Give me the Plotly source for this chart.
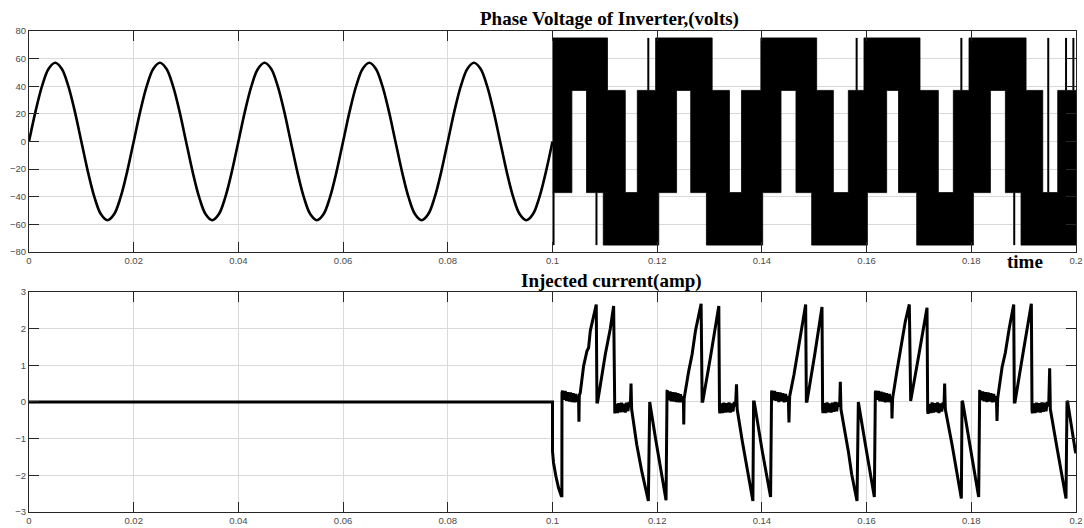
import plotly.graph_objects as go

# ---------------- data ----------------
# Phase voltage before the inverter starts (0 - 0.1 s), sampled every 1.25 ms
v_sine_t = [0.00125 * k for k in range(81)]
v_sine_v = [0, 21.8, 40.3, 52.7, 57, 52.7, 40.3, 21.8, 0, -21.8, -40.3, -52.7, -57, -52.7, -40.3, -21.8,
            0, 21.8, 40.3, 52.7, 57, 52.7, 40.3, 21.8, 0, -21.8, -40.3, -52.7, -57, -52.7, -40.3, -21.8,
            0, 21.8, 40.3, 52.7, 57, 52.7, 40.3, 21.8, 0, -21.8, -40.3, -52.7, -57, -52.7, -40.3, -21.8,
            0, 21.8, 40.3, 52.7, 57, 52.7, 40.3, 21.8, 0, -21.8, -40.3, -52.7, -57, -52.7, -40.3, -21.8,
            0, 21.8, 40.3, 52.7, 57, 52.7, 40.3, 21.8, 0, -21.8, -40.3, -52.7, -57, -52.7, -40.3, -21.8,
            0]

# PWM phase voltage (0.1 - 0.2 s): switching bands between voltage levels
pwm_edges = [0.1000, 0.1037, 0.1065, 0.1097, 0.1105, 0.1139, 0.1162, 0.1197,
             0.1203, 0.1237, 0.1264, 0.1294, 0.1305, 0.1338, 0.1361, 0.1398,
             0.14015, 0.14365, 0.14651, 0.14951, 0.15046, 0.15365, 0.15651, 0.1595,
             0.16015, 0.16383, 0.1661, 0.16957, 0.1702, 0.1737, 0.17657, 0.17956,
             0.1804, 0.18365, 0.18651, 0.1895, 0.19046, 0.19365, 0.19651, 0.2000]
pwm_low = [-37, 37, -37, -75, -75, -75, -75, -75,
           -37, 37, -37, -75, -75, -75, -75, -75,
           -37, 37, -37, -75, -75, -75, -75, -75,
           -37, 37, -37, -75, -75, -75, -75, -75,
           -37, 37, -37, -75, -75, -75, -75]
pwm_high = [75, 75, 75, 75, 37, -37, 37, 75,
            75, 75, 75, 75, 37, -37, 37, 75,
            75, 75, 75, 75, 37, -37, 37, 75,
            75, 75, 75, 75, 37, -37, 37, 75,
            75, 75, 75, 75, 37, -37, 37]

# isolated switching spikes
spike_t = [0.1002, 0.1084, 0.1183, 0.1581, 0.1781, 0.1882, 0.1947, 0.1981, 0.1995]
spike_lo = [-75, -75, 37, 37, 37, -75, -37, 37, 37]
spike_hi = [-37, -37, 75, 75, 75, -37, 75, 75, 75]

# Injected current (A)
cur_t = [
    0.0, 0.1,
    # cycle 1
    0.1, 0.10019, 0.10064, 0.10115, 0.10166, 0.10179, 0.10181,
    0.10191, 0.10217, 0.10243, 0.10268, 0.10294, 0.10319, 0.10345, 0.10370, 0.10396, 0.10421, 0.10447, 0.10472, 0.10498,
    0.10505, 0.10512, 0.1053, 0.10594, 0.10658, 0.1069, 0.10722, 0.10785, 0.10836,
    0.10849, 0.10862, 0.11009, 0.11104, 0.11168, 0.1118,
    0.1119, 0.11215, 0.1124, 0.11265, 0.1129, 0.11315, 0.1134, 0.11365, 0.1139, 0.11415, 0.1144, 0.11465, 0.11487,
    0.115, 0.11512, 0.11608, 0.11704, 0.11831, 0.11844,
    0.11857, 0.11965, 0.12093, 0.12169, 0.12188,
    # cycle 2
    0.12195, 0.1222, 0.12245, 0.1227, 0.12295, 0.1232, 0.12345, 0.1237, 0.12395, 0.1242, 0.12445, 0.1247, 0.125,
    0.12507, 0.12515, 0.12603, 0.12667, 0.12731, 0.12794, 0.12839,
    0.12858, 0.12871, 0.1302, 0.13177, 0.1319,
    0.13197, 0.13222, 0.13247, 0.13272, 0.13297, 0.13322, 0.13347, 0.13372, 0.13397, 0.13422, 0.13447, 0.13472, 0.13496,
    0.13515, 0.13528, 0.13624, 0.13751, 0.13828, 0.13841,
    0.13854, 0.14007, 0.14166, 0.14185,
    # cycle 3
    0.14192, 0.14218, 0.14244, 0.1427, 0.14296, 0.14322, 0.14348, 0.14374, 0.144, 0.14426, 0.14452, 0.14478, 0.14504,
    0.14517, 0.1453, 0.14613, 0.14677, 0.14741, 0.14836,
    0.14849, 0.14862, 0.1501, 0.15148, 0.1516,
    0.15167, 0.15193, 0.15219, 0.15245, 0.15271, 0.15297, 0.15323, 0.15349, 0.15375, 0.15401, 0.15427, 0.15453, 0.15485,
    0.15498, 0.1551, 0.15651, 0.15715, 0.15817, 0.15829,
    0.15842, 0.15976, 0.16148, 0.16167,
    # cycle 4
    0.16174, 0.162, 0.16226, 0.16252, 0.16278, 0.16304, 0.1633, 0.16356, 0.16382, 0.16408, 0.16434, 0.1646, 0.16478,
    0.16485, 0.16497, 0.1658, 0.16625, 0.16676, 0.1674, 0.16816,
    0.16829, 0.16842, 0.17, 0.17154, 0.17167,
    0.17174, 0.172, 0.17226, 0.17252, 0.17278, 0.17304, 0.1733, 0.17356, 0.17382, 0.17408, 0.17434, 0.1746, 0.17478,
    0.17491, 0.17504, 0.17631, 0.17727, 0.1781, 0.17823,
    0.17836, 0.17982, 0.18141, 0.1816,
    # cycle 5
    0.18167, 0.18193, 0.18219, 0.18245, 0.18271, 0.18297, 0.18323, 0.18349, 0.18375, 0.18401, 0.18427, 0.18453, 0.18479,
    0.18491, 0.18504, 0.18587, 0.18651, 0.18727, 0.1881,
    0.18822, 0.18835, 0.1899, 0.19147, 0.1916,
    0.19167, 0.19193, 0.19219, 0.19245, 0.19271, 0.19297, 0.19323, 0.19349, 0.19375, 0.19401, 0.19427, 0.19453, 0.19478,
    0.19497, 0.1951, 0.19637, 0.19733, 0.19809, 0.19828,
    0.19841, 0.19987, 0.2,
]
cur_i = [
    0.0, 0.0,
    # cycle 1
    -1.34, -1.65, -2.02, -2.34, -2.56, -2.56, 0.25,
    0.31, 0.06, 0.30, 0.03, 0.27, 0.01, 0.26, 0.00, 0.24, -0.01, 0.22, 0.00, 0.16,
    -0.54, 0.18, 0.25, 0.98, 1.39, 1.48, 1.94, 2.30, 2.66,
    0.0, 0.0, 1.30, 2.00, 2.62, -0.25,
    -0.31, -0.05, -0.30, -0.03, -0.28, -0.02, -0.27, -0.05, -0.29, -0.02, -0.25, 0.00, -0.12,
    0.50, -0.20, -1.15, -1.88, -2.70, 0.0,
    0.0, -0.97, -2.02, -2.68, 0.30,
    # cycle 2
    0.31, 0.05, 0.29, 0.02, 0.27, 0.01, 0.26, 0.00, 0.24, -0.01, 0.21, 0.00, 0.16,
    -0.61, 0.10, 0.85, 1.30, 1.94, 2.39, 2.68,
    0.02, 0.02, 1.25, 2.62, -0.22,
    -0.31, -0.04, -0.30, -0.02, -0.29, -0.03, -0.28, -0.01, -0.29, -0.04, -0.26, 0.00, -0.12,
    0.48, -0.20, -1.06, -2.15, -2.70, 0.0,
    0.0, -1.34, -2.59, 0.28,
    # cycle 3
    0.31, 0.05, 0.30, 0.03, 0.27, 0.00, 0.26, 0.02, 0.24, -0.01, 0.22, 0.01, 0.16,
    -0.56, 0.15, 0.75, 1.30, 1.94, 2.66,
    0.02, 0.02, 1.30, 2.59, -0.20,
    -0.30, -0.03, -0.30, -0.01, -0.28, -0.04, -0.29, -0.02, -0.27, 0.00, -0.25, -0.02, -0.12,
    0.55, -0.20, -1.34, -1.97, -2.70, 0.0,
    0.0, -1.15, -2.59, 0.25,
    # cycle 4
    0.31, 0.06, 0.30, 0.02, 0.28, 0.01, 0.26, -0.01, 0.24, 0.00, 0.22, -0.01, 0.16,
    -0.45, 0.10, 0.85, 1.25, 1.66, 2.20, 2.66,
    0.03, 0.03, 1.30, 2.57, -0.25,
    -0.32, -0.05, -0.30, -0.01, -0.29, -0.03, -0.27, -0.01, -0.30, -0.04, -0.26, -0.01, -0.12,
    0.50, -0.20, -1.15, -1.97, -2.63, 0.03,
    0.0, -1.25, -2.59, 0.30,
    # cycle 5
    0.31, 0.05, 0.29, 0.02, 0.27, 0.00, 0.26, 0.01, 0.24, -0.01, 0.22, 0.00, 0.16,
    -0.52, 0.10, 0.94, 1.35, 2.03, 2.66,
    0.0, 0.0, 1.35, 2.68, -0.23,
    -0.31, -0.04, -0.30, -0.02, -0.28, -0.03, -0.29, -0.01, -0.27, -0.02, -0.25, 0.00, -0.12,
    0.92, -0.20, -1.25, -2.02, -2.63, 0.03,
    0.0, -1.34, -1.40,
]

x_ticks = [0, 0.02, 0.04, 0.06, 0.08, 0.1, 0.12, 0.14, 0.16, 0.18, 0.2]
x_tick_text = ["0", "0.02", "0.04", "0.06", "0.08", "0.1", "0.12", "0.14", "0.16", "0.18", "0.2"]
v_ticks = [-80, -60, -40, -20, 0, 20, 40, 60, 80]
i_ticks = [-3, -2, -1, 0, 1, 2, 3]

# ---------------- build PWM band outline ----------------
band_x, band_y = [], []
for k in range(len(pwm_low)):
    band_x += [pwm_edges[k], pwm_edges[k + 1]]
    band_y += [pwm_high[k], pwm_high[k]]
for k in reversed(range(len(pwm_low))):
    band_x += [pwm_edges[k + 1], pwm_edges[k]]
    band_y += [pwm_low[k], pwm_low[k]]

spike_x, spike_y = [], []
for t, lo, hi in zip(spike_t, spike_lo, spike_hi):
    spike_x += [t, t, None]
    spike_y += [lo, hi, None]

# ---------------- figure ----------------
fig = go.Figure()
fig.add_trace(go.Scatter(x=v_sine_t, y=v_sine_v, mode="lines",
                         line=dict(color="black", width=2.6, shape="spline", smoothing=1.0),
                         xaxis="x", yaxis="y", showlegend=False, hoverinfo="skip"))
fig.add_trace(go.Scatter(x=band_x, y=band_y, mode="lines", fill="toself",
                         fillcolor="black", line=dict(color="black", width=0.8),
                         xaxis="x", yaxis="y", showlegend=False, hoverinfo="skip"))
fig.add_trace(go.Scatter(x=spike_x, y=spike_y, mode="lines",
                         line=dict(color="black", width=2),
                         xaxis="x", yaxis="y", showlegend=False, hoverinfo="skip"))
fig.add_trace(go.Scatter(x=cur_t, y=cur_i, mode="lines",
                         line=dict(color="black", width=3),
                         xaxis="x2", yaxis="y2", showlegend=False, hoverinfo="skip"))

tick_font = dict(family="Liberation Sans, Arial, sans-serif", size=9.5, color="#4a4a4a")
common_x = dict(range=[0, 0.2], tickvals=x_ticks, ticktext=x_tick_text,
                showgrid=True, gridcolor="#d9d9d9", gridwidth=1,
                zeroline=False, showline=True, linecolor="#262626", linewidth=1,
                mirror="ticks", ticks="inside", ticklen=10, tickcolor="#262626",
                tickfont=tick_font, automargin=False)
common_y = dict(showgrid=True, gridcolor="#d9d9d9", gridwidth=1,
                zeroline=False, showline=True, linecolor="#262626", linewidth=1,
                mirror="ticks", ticks="inside", ticklen=10, tickcolor="#262626",
                tickfont=tick_font, automargin=False)

title_font = dict(family="Liberation Serif, Times New Roman, serif", size=19, color="black")

fig.update_layout(
    width=1084, height=528,
    margin=dict(l=29, r=8, t=31, b=16),
    paper_bgcolor="white", plot_bgcolor="white",
    xaxis=dict(domain=[0, 1], anchor="y", **common_x),
    yaxis=dict(domain=[0.5405, 1], anchor="x", range=[-80, 80], tickvals=v_ticks, **common_y),
    xaxis2=dict(domain=[0, 1], anchor="y2", **common_x),
    yaxis2=dict(domain=[0, 0.4574], anchor="x2", range=[-3, 3], tickvals=i_ticks, **common_y),
    annotations=[
        dict(text="<b>Phase Voltage of Inverter,(volts)</b>", xref="paper", yref="paper",
             x=0.5543, y=1.025, xanchor="center", yanchor="middle", showarrow=False,
             font=title_font),
        dict(text="<b>Injected current(amp)</b>", xref="paper", yref="paper",
             x=0.5568, y=0.481, xanchor="center", yanchor="middle", showarrow=False,
             font=title_font),
        dict(text="<b>time</b>", xref="paper", yref="paper",
             x=0.9513, y=0.521, xanchor="center", yanchor="middle", showarrow=False,
             font=title_font),
    ],
)

fig.write_html("out.html")
